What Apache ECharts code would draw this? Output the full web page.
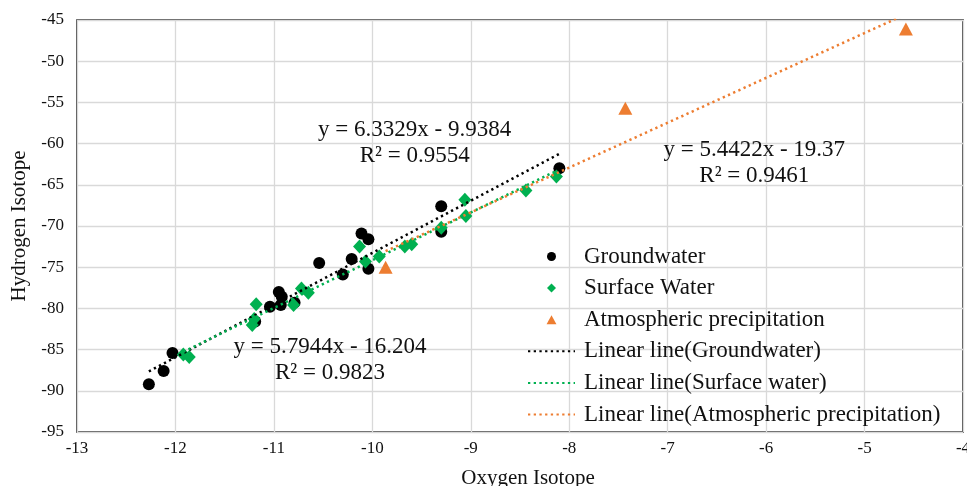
<!DOCTYPE html>
<html>
<head>
<meta charset="utf-8">
<script src="https://cdn.jsdelivr.net/npm/echarts@6/dist/echarts.min.js"></script>
<style>
html,body{margin:0;padding:0;background:#fff;overflow:hidden;}
#chart{width:967px;height:486px;}
</style>
</head>
<body>
<div id="chart"></div>
<script>
// ---- Data ----
const groundwater = [
  [-12.27, -89.2], [-12.12, -87.6], [-12.03, -85.4], [-11.19, -81.6],
  [-11.04, -79.8], [-10.95, -78.0], [-10.92, -78.6], [-10.93, -79.6],
  [-10.79, -79.3], [-10.54, -74.5], [-10.30, -75.9], [-10.21, -74.0],
  [-10.11, -70.9], [-10.04, -71.6], [-10.04, -75.2], [-9.30, -67.6],
  [-9.30, -70.7], [-8.10, -63.0]
];
const surfaceWater = [
  [-11.92, -85.6], [-11.86, -85.9], [-11.18, -79.5], [-11.20, -81.3],
  [-11.22, -82.0], [-10.80, -79.6], [-10.72, -77.6], [-10.65, -78.1],
  [-10.13, -72.5], [-10.07, -74.3], [-9.93, -73.7], [-9.67, -72.5],
  [-9.60, -72.2], [-9.30, -70.2], [-9.06, -66.8], [-9.05, -68.8],
  [-8.44, -65.7], [-8.13, -64.0]
];
const precipitation = [
  [-9.865, -75.0], [-7.43, -55.7], [-4.58, -46.1]
];
// Trendline equations as printed on the chart: [slope, intercept]
const trendGround = [6.3329, -9.9384];
const trendSurface = [5.7944, -16.204];
const trendPrecip = [5.4422, -19.37];
const eqTexts = [
  ['y = 6.3329x - 9.9384', 'R\u00B2 = 0.9554'],
  ['y = 5.7944x - 16.204', 'R\u00B2 = 0.9823'],
  ['y = 5.4422x - 19.37', 'R\u00B2 = 0.9461']
];
// anchor (data coords) for each equation label block
const eqAnchors = [[-9.57, -59.9], [-10.43, -86.2], [-6.12, -62.3]];
const xMin = -13, xMax = -4, xStep = 1;
const yMin = -95, yMax = -45, yStep = 5;
const legendNames = ['Groundwater', 'Surface Water', 'Atmospheric precipitation',
  'Linear line(Groundwater)', 'Linear line(Surface water)', 'Linear line(Atmospheric precipitation)'];

function trendLine(pts, coef) {
  const xs = pts.map(p => p[0]);
  const lo = Math.min(...xs), hi = Math.max(...xs);
  return [[lo, coef[0] * lo + coef[1]], [hi, coef[0] * hi + coef[1]]];
}

const FONT = '"Liberation Serif", "Times New Roman", serif';
const BLACK = '#000000', GREEN = '#00B050', ORANGE = '#ED7D31';
const DIAMOND = 'path://M0,-1L1,0L0,1L-1,0Z';
const TRIANGLE = 'path://M0,-1L1.1,1L-1.1,1Z';

const chart = echarts.init(document.getElementById('chart'), null, {renderer: 'canvas'});
const dotted = [2.3, 3.4];
chart.setOption({
  backgroundColor: '#fff',
  animation: false,
  textStyle: {fontFamily: FONT},
  grid: {left: 77, right: 4, top: 20, bottom: 54, show: true, borderColor: '#1a1a1a', borderWidth: 1.5,
    containLabel: false, outerBoundsMode: 'none'},
  xAxis: {
    type: 'value', min: xMin, max: xMax, interval: xStep,
    name: 'Oxygen Isotope', nameLocation: 'middle', nameGap: 36,
    nameTextStyle: {fontFamily: FONT, fontSize: 21, color: '#111', padding: [0, 0, 0, 16]},
    axisLine: {show: false}, axisTick: {show: false},
    axisLabel: {fontFamily: FONT, fontSize: 17, color: '#111', margin: 8},
    splitLine: {show: true, lineStyle: {color: '#d9d9d9', width: 1.3}}
  },
  yAxis: {
    type: 'value', min: yMin, max: yMax, interval: yStep,
    name: 'Hydrogen Isotope', nameLocation: 'middle', nameGap: 46,
    nameTextStyle: {fontFamily: FONT, fontSize: 21, color: '#111'},
    axisLine: {show: false}, axisTick: {show: false},
    axisLabel: {fontFamily: FONT, fontSize: 17, color: '#111', margin: 13},
    splitLine: {show: true, lineStyle: {color: '#d9d9d9', width: 1.3}}
  },
  legend: {
    orient: 'vertical', left: 527, top: 245, padding: 0,
    itemWidth: 47, itemHeight: 9, itemGap: 8.6, symbolKeepAspect: true,
    textStyle: {fontFamily: FONT, fontSize: 23, color: '#111', lineHeight: 22.5, padding: [0, 0, 0, 4]},
    data: [
      {name: legendNames[0], icon: 'circle'},
      {name: legendNames[1], icon: DIAMOND},
      {name: legendNames[2], icon: TRIANGLE},
      {name: legendNames[3], itemStyle: {opacity: 0}},
      {name: legendNames[4], itemStyle: {opacity: 0}},
      {name: legendNames[5], itemStyle: {opacity: 0}}
    ]
  },
  series: [
    {name: legendNames[0], type: 'scatter', data: groundwater, symbol: 'circle', symbolSize: 12,
      itemStyle: {color: BLACK, opacity: 1}, z: 3},
    {name: legendNames[1], type: 'scatter', data: surfaceWater, symbol: 'diamond', symbolSize: [13, 14],
      itemStyle: {color: GREEN, opacity: 1}, z: 3},
    {name: legendNames[2], type: 'scatter', data: precipitation, symbol: 'triangle', symbolSize: [14, 13],
      itemStyle: {color: ORANGE, opacity: 1}, z: 3},
    {name: legendNames[3], type: 'line', data: trendLine(groundwater, trendGround),
      symbol: 'none', showSymbol: false, clip: true, z: 5, itemStyle: {color: BLACK},
      lineStyle: {color: BLACK, width: 2.5, type: dotted, cap: 'butt'}},
    {name: legendNames[4], type: 'line', data: trendLine(surfaceWater, trendSurface),
      symbol: 'none', showSymbol: false, clip: true, z: 5, itemStyle: {color: GREEN},
      lineStyle: {color: GREEN, width: 2.5, type: dotted, cap: 'butt'}},
    {name: legendNames[5], type: 'line', data: trendLine(precipitation, trendPrecip),
      symbol: 'none', showSymbol: false, clip: true, z: 5, itemStyle: {color: ORANGE},
      lineStyle: {color: ORANGE, width: 2.5, type: dotted, cap: 'butt'}}
  ]
});

// Equation labels, anchored at data coordinates
const graphics = [];
eqTexts.forEach((lines, i) => {
  const p = chart.convertToPixel({gridIndex: 0}, eqAnchors[i]);
  lines.forEach((t, j) => {
    graphics.push({
      type: 'text', x: p[0], y: p[1] + (j === 0 ? -13 : 13), z: 10,
      style: {text: t, fontFamily: FONT, fontSize: 23, fill: '#111', align: 'center', verticalAlign: 'middle'}
    });
  });
});
chart.setOption({graphic: graphics});
</script>
</body>
</html>
